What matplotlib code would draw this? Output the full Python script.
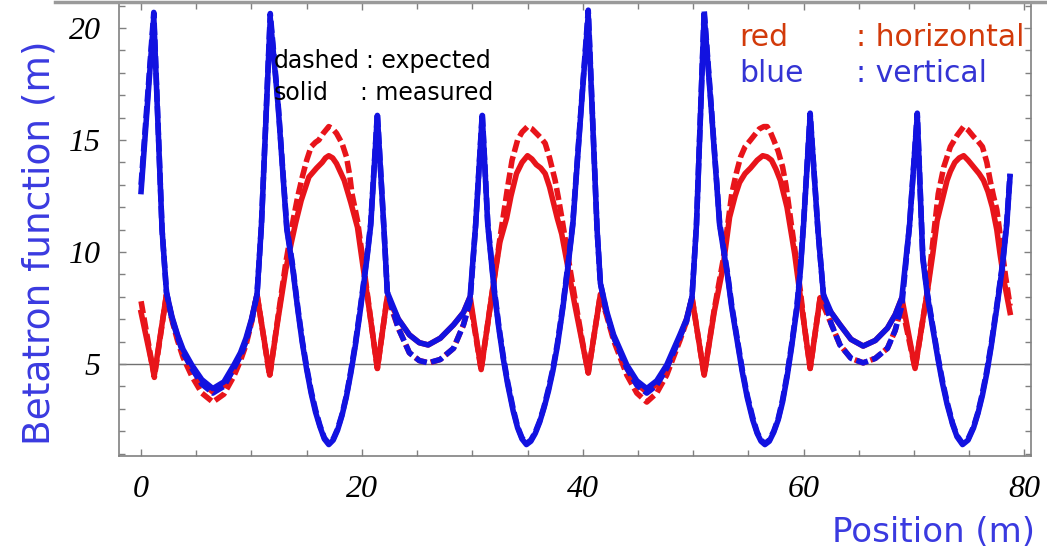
import matplotlib
matplotlib.use("Agg")
import matplotlib.pyplot as plt
from matplotlib.lines import Line2D
from matplotlib.ticker import MultipleLocator

# ---------------- data ----------------
# vertical (blue) measured
bs_x = [0.0, 1.15, 1.9, 2.3, 2.8, 3.3, 3.8, 4.6, 5.5, 6.5, 7.5, 8.4, 9.0, 9.5, 10.0, 10.5, 10.9, 11.7, 12.4,
        13.2, 13.7, 14.2, 14.6, 15.0, 15.4, 15.8, 16.2, 16.6, 17.0, 17.4, 17.8, 18.2, 18.6, 19.0, 19.4, 19.8,
        20.2, 20.5, 20.8, 21.4, 22.0, 22.3, 23.3, 24.3, 25.2, 26.0, 27.1, 28.3, 29.2, 29.8, 30.3, 30.9,
        31.4, 32.0, 32.4, 32.8, 33.2, 33.7, 34.1, 34.5, 34.9, 35.3, 35.7, 36.1, 36.5, 36.9, 37.3, 37.7, 38.2,
        38.6, 39.1, 39.8, 40.5, 41.3, 41.6, 42.2, 42.8, 44.0, 44.9, 45.8, 46.7, 47.6, 48.8, 49.4, 49.9, 50.3,
        51.0, 51.7, 52.4, 53.1, 53.5, 54.0, 54.45, 54.9, 55.4, 55.8, 56.15, 56.5, 56.9, 57.3, 57.7, 58.1, 58.5,
        58.9, 59.4, 59.7, 60.0, 60.6, 61.3, 61.8, 62.5, 63.3, 64.3, 65.4, 66.5, 67.6, 68.3, 68.9, 69.6, 70.3,
        70.8, 71.2, 71.7, 72.2, 72.6, 73.0, 73.5, 73.9, 74.4, 74.9, 75.4, 75.8, 76.2, 76.6, 77.0, 77.5, 78.0,
        78.4, 78.7]
bs_y = [12.7, 20.5, 11.0, 8.2, 7.1, 6.3, 5.65, 4.95, 4.3, 3.9, 4.2, 4.95, 5.5, 6.15, 7.0, 8.1, 11.2, 20.45, 16.6,
        11.0, 9.4, 7.4, 5.95, 4.75, 3.7, 2.85, 2.2, 1.65, 1.4, 1.6, 2.05, 2.7, 3.55, 4.6, 5.8, 7.2,
        8.7, 9.9, 11.2, 16.1, 11.0, 8.2, 7.0, 6.3, 5.95, 5.85, 6.15, 6.75, 7.3, 8.0, 11.2, 16.1,
        11.2, 8.2, 6.6, 5.25, 4.1, 2.9, 2.15, 1.65, 1.4, 1.55, 1.9, 2.4, 3.05, 3.8, 4.7, 5.8, 7.5,
        9.1, 11.2, 16.0, 20.6, 11.0, 8.6, 7.3, 6.3, 4.95, 4.25, 3.9, 4.25, 4.95, 6.3, 7.0, 8.0, 11.2,
        20.6, 16.0, 11.2, 9.0, 7.5, 6.0, 4.65, 3.5, 2.5, 1.9, 1.55, 1.4, 1.55, 1.95, 2.5, 3.3, 4.4,
        5.7, 7.5, 9.1, 11.2, 16.1, 11.0, 8.1, 7.3, 6.75, 6.1, 5.8, 6.05, 6.6, 7.2, 7.95, 11.2, 16.1,
        9.7, 8.1, 6.6, 5.15, 4.1, 3.2, 2.3, 1.75, 1.4, 1.6, 2.15, 2.8, 3.6, 4.6, 5.8, 7.5, 9.3,
        11.2, 13.35]

# vertical (blue) expected
bd_x = bs_x
bd_y = [13.0, 20.7, 11.0, 8.2, 7.0, 6.2, 5.5, 4.8, 4.1, 3.7, 4.0, 4.8, 5.35, 6.0, 6.9, 8.1, 11.2, 20.65, 16.7,
        11.1, 9.5, 7.5, 6.05, 4.85, 3.8, 2.95, 2.25, 1.7, 1.45, 1.65, 2.1, 2.75, 3.6, 4.7, 5.9, 7.3,
        8.8, 10.0, 11.3, 16.2, 11.0, 8.2, 6.6, 5.5, 5.15, 5.05, 5.2, 5.7, 6.75, 7.8, 11.2, 16.2,
        11.3, 8.3, 6.7, 5.35, 4.2, 3.0, 2.2, 1.7, 1.45, 1.6, 1.95, 2.45, 3.1, 3.9, 4.8, 5.9, 7.6,
        9.2, 11.3, 16.1, 20.8, 11.0, 8.6, 7.2, 6.2, 4.8, 4.05, 3.7, 4.05, 4.8, 6.2, 6.9, 8.0, 11.2,
        20.8, 16.1, 11.3, 9.1, 7.6, 6.1, 4.75, 3.6, 2.6, 1.95, 1.6, 1.45, 1.6, 2.0, 2.55, 3.4, 4.5,
        5.8, 7.6, 9.2, 11.3, 16.2, 11.0, 8.1, 6.8, 5.85, 5.25, 5.05, 5.25, 5.7, 6.5, 7.6, 11.2, 16.2,
        9.8, 8.2, 6.7, 5.25, 4.2, 3.3, 2.35, 1.8, 1.45, 1.65, 2.2, 2.85, 3.7, 4.7, 5.9, 7.6, 9.4,
        11.3, 13.5]

# horizontal (red) measured
rs_x = [0.0, 1.2, 2.3, 2.8, 3.3, 3.8, 4.6, 5.5, 6.5, 7.5, 8.4, 9.0, 9.5, 10.0, 10.5, 11.65, 12.4, 13.1, 13.6,
        14.0, 14.5, 15.2, 15.9, 16.4, 16.7, 17.0, 17.35, 17.7, 18.4, 19.0, 19.6, 20.1, 20.5, 20.9, 21.4,
        22.3, 23.3, 24.3, 25.2, 26.0, 27.1, 28.3, 29.2, 29.8, 30.8, 31.8, 32.5, 33.1, 33.5, 34.0, 34.5,
        35.0, 35.4, 35.8, 36.2, 36.6, 37.0, 37.3, 37.7, 38.1, 38.7, 39.3, 39.9, 40.5, 41.6, 42.2, 42.8,
        44.0, 44.9, 45.8, 46.7, 47.6, 48.8, 49.4, 49.9, 51.0, 51.9, 52.7, 53.3, 53.8, 54.2, 54.7, 55.2,
        55.8, 56.3, 56.7, 57.1, 57.5, 57.9, 58.2, 58.5, 58.8, 59.2, 59.6, 60.1, 60.6, 61.5, 62.5, 63.3,
        64.3, 65.4, 66.5, 67.6, 68.3, 68.9, 70.1, 71.2, 71.7, 72.1, 72.6, 73.0, 73.3, 73.7, 74.1, 74.5,
        74.9, 75.4, 75.9, 76.3, 76.7, 77.1, 77.5, 77.8, 78.2, 78.7]
rs_y = [7.3, 4.5, 8.1, 7.05, 6.25, 5.55, 4.8, 4.15, 3.75, 4.05, 4.8, 5.4, 6.05, 6.95, 8.1, 4.5, 7.0, 9.2, 10.4,
        11.3, 12.3, 13.35, 13.75, 14.0, 14.2, 14.3, 14.2, 13.95, 13.2, 12.2, 11.1, 9.35, 8.0, 6.6, 4.8,
        8.0, 7.0, 6.3, 5.95, 5.85, 6.15, 6.75, 7.3, 8.0, 4.75, 8.2, 10.45, 11.5, 12.5, 13.5, 14.0,
        14.3, 14.15, 13.9, 13.75, 13.5, 12.9, 12.3, 11.5, 10.8, 9.2, 7.6, 6.1, 4.6, 8.1, 7.2, 6.2,
        4.8, 4.1, 3.75, 4.1, 4.8, 6.2, 7.0, 7.95, 4.5, 7.3, 9.3, 11.55, 12.5, 13.1, 13.5, 13.75,
        14.1, 14.3, 14.25, 14.1, 13.7, 13.2, 12.6, 12.0, 11.1, 9.9, 8.4, 6.6, 4.8, 7.95, 7.3, 6.75,
        6.1, 5.8, 6.05, 6.6, 7.2, 7.95, 4.8, 8.2, 9.9, 11.4, 12.4, 13.2, 13.6, 14.0, 14.2, 14.3,
        14.1, 13.8, 13.5, 13.2, 12.7, 12.0, 11.0, 9.9, 8.6, 7.3]

# horizontal (red) expected
rd_x = [0.0, 1.2, 2.3, 2.8, 3.3, 3.8, 4.6, 5.5, 6.5, 7.5, 8.4, 9.0, 9.5, 10.0, 10.5, 11.65, 12.4, 13.1, 13.8,
        14.2, 14.6, 15.0, 15.4, 15.8, 16.1, 16.5, 17.0, 17.35, 17.7, 18.2, 18.6, 18.9, 19.1, 19.6, 20.1,
        20.5, 20.9, 21.4, 22.3, 23.3, 24.3, 25.2, 26.1, 27.1, 28.3, 29.2, 29.8, 30.8, 31.8, 32.5, 32.9,
        33.2, 33.6, 34.1, 34.5, 35.0, 35.4, 35.8, 36.2, 36.6, 37.0, 37.5, 37.8, 38.1, 38.7, 39.3, 39.9,
        40.5, 41.6, 42.2, 42.8, 44.0, 44.9, 45.8, 46.7, 47.6, 48.8, 49.4, 49.9, 51.0, 51.9, 52.7, 53.1,
        53.5, 53.9, 54.3, 54.7, 55.2, 55.6, 56.0, 56.4, 56.7, 57.0, 57.3, 57.7, 58.1, 58.4, 58.6, 58.9,
        59.3, 59.7, 60.1, 60.6, 61.5, 62.5, 63.3, 64.3, 65.4, 66.5, 67.6, 68.3, 68.9, 70.1, 71.2, 71.7,
        72.2, 72.7, 73.3, 73.9, 74.5, 74.9, 75.4, 75.8, 76.2, 76.6, 76.9, 77.2, 77.5, 77.9, 78.3, 78.7]
rd_y = [7.8, 4.4, 8.1, 6.95, 6.05, 5.3, 4.45, 3.7, 3.3, 3.65, 4.45, 5.15, 5.85, 6.85, 8.1, 4.45, 7.1, 9.5, 11.5,
        12.5, 13.35, 14.1, 14.7, 14.9, 15.0, 15.3, 15.6, 15.5, 15.3, 14.85, 14.25, 13.4, 12.6, 11.4, 9.6,
        8.1, 6.6, 4.8, 8.0, 6.6, 5.5, 5.15, 5.05, 5.2, 5.7, 6.75, 7.8, 4.75, 8.2, 10.6, 11.9,
        12.9, 14.1, 15.0, 15.35, 15.6, 15.5, 15.3, 15.1, 14.85, 14.2, 13.2, 12.4, 11.55, 9.7, 7.9, 6.2,
        4.6, 8.1, 7.1, 6.05, 4.5, 3.7, 3.3, 3.7, 4.5, 6.05, 6.9, 7.95, 4.5, 7.4, 9.6, 11.1,
        12.6, 13.5, 14.25, 14.7, 15.0, 15.25, 15.5, 15.6, 15.6, 15.35, 15.0, 14.5, 13.8, 13.0, 12.3, 11.2,
        9.8, 8.3, 6.6, 4.8, 7.95, 6.8, 5.85, 5.25, 5.05, 5.25, 5.7, 6.5, 7.6, 4.8, 8.2, 10.4,
        12.6, 13.8, 14.7, 15.2, 15.6, 15.45, 15.15, 14.95, 14.7, 14.0, 13.2, 12.5, 11.9, 10.4, 8.9, 7.6]

x_ticks = [0, 20, 40, 60, 80]
y_ticks = [5, 10, 15, 20]

# ---------------- figure ----------------
W, H = 1047, 553
fig = plt.figure(figsize=(W / 100, H / 100), dpi=100)
ax = fig.add_axes([119 / W, 1 - 456 / H, (1031 - 119) / W, (456 - 3) / H])

RED = '#e8141a'
BLUE = '#1212e0'
lw = 4.0
dash = (0, (2.2, 0.8))

ax.axhline(5, color='#707070', lw=1.0, zorder=1)
ax.plot(rd_x, rd_y, color=RED, lw=lw, linestyle=dash, zorder=2)
ax.plot(rs_x, rs_y, color=RED, lw=lw, zorder=3, solid_joinstyle='round')
ax.plot(bd_x, bd_y, color=BLUE, lw=lw, linestyle=dash, zorder=4)
ax.plot(bs_x, bs_y, color=BLUE, lw=lw, zorder=5, solid_joinstyle='round')

ax.set_xlim(-2.0, 80.6)
ax.set_ylim(0.89, 21.12)
ax.set_xticks(x_ticks)
ax.set_yticks(y_ticks)
ax.xaxis.set_minor_locator(MultipleLocator(5))
ax.yaxis.set_minor_locator(MultipleLocator(1))
ax.tick_params(which='both', direction='in', top=True, right=True, color='#808080', width=1.0)
ax.tick_params(which='major', length=5)
ax.tick_params(which='minor', length=4)
ax.tick_params(axis='x', pad=14)
ax.tick_params(axis='y', pad=13)
for lab in ax.get_xticklabels() + ax.get_yticklabels():
    lab.set_fontfamily('Liberation Serif')
    lab.set_fontstyle('italic')
    lab.set_fontsize(23)
for s in ax.spines.values():
    s.set_color('#808080')
    s.set_linewidth(1.2)

# frame line at the very top of the picture
fig.add_artist(Line2D([55 / W, 1.0], [1 - 1.5 / H, 1 - 1.5 / H], color='#9a9a9a', lw=2.5))

# labels
fig.text(40 / W, 1 - 243 / H, 'Betatron function (m)', rotation=90, color='#3a3ae0',
         fontsize=27, family='DejaVu Sans', ha='center', va='center')
fig.text(1035 / W, 1 - 532 / H, 'Position (m)', color='#3a3ae0', fontsize=24.5,
         family='DejaVu Sans', ha='right', va='center')

# annotations
tk = dict(fontsize=17, family='DejaVu Sans', va='center', color='black')
fig.text(274 / W, 1 - 61 / H, 'dashed', **tk)
fig.text(366 / W, 1 - 61 / H, ': expected', **tk)
fig.text(274 / W, 1 - 93 / H, 'solid', **tk)
fig.text(360 / W, 1 - 93 / H, ': measured', **tk)

tr = dict(fontsize=21.5, family='DejaVu Sans', va='center')
fig.text(739 / W, 1 - 38 / H, 'red', color='#d23a0a', **tr)
fig.text(856 / W, 1 - 38 / H, ': horizontal', color='#d23a0a', **tr)
fig.text(739 / W, 1 - 74 / H, 'blue', color='#3434d4', **tr)
fig.text(856 / W, 1 - 74 / H, ': vertical', color='#3434d4', **tr)

fig.savefig('out.png', dpi=100)
